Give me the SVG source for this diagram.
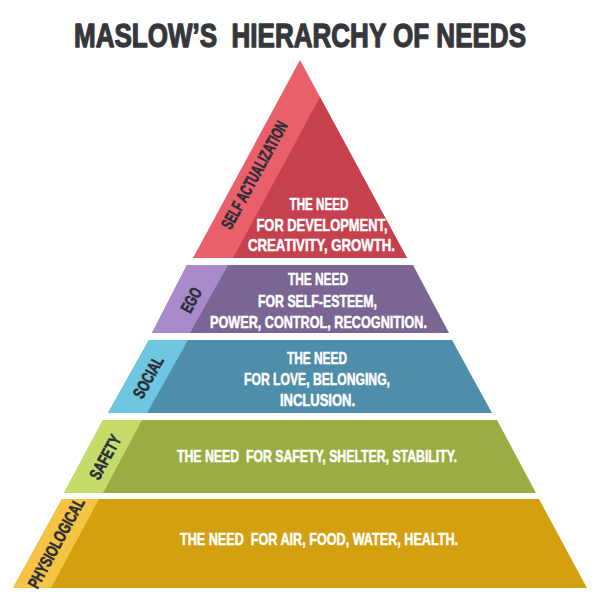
<svg xmlns="http://www.w3.org/2000/svg" width="600" height="600" viewBox="0 0 600 600">
<style>
.title{font-family:"Liberation Sans",Arial,sans-serif;font-weight:bold;font-size:28px;fill:#36373a;stroke:#36373a;stroke-width:1.1px;stroke-linejoin:round;}
.body{font-family:"Liberation Sans",Arial,sans-serif;font-weight:bold;font-size:16.5px;fill:#ffffff;stroke:#ffffff;stroke-width:0.5px;}
.lab{font-family:"Liberation Sans",Arial,sans-serif;font-weight:bold;font-size:17px;fill:#2b2e38;stroke:#2b2e38;stroke-width:0.6px;}
</style>
<rect width="600" height="600" fill="#ffffff"/>
<g transform="translate(300,47) scale(1,1.18)"><text class="title" x="0" y="0" text-anchor="middle" textLength="452" lengthAdjust="spacingAndGlyphs" xml:space="preserve">MASLOW’S  HIERARCHY OF NEEDS</text></g>

<g id="self-actualization">
<polygon points="300,60 407,258 193,258" fill="#e9606b"/>
<polygon points="320,97 407,258 233,258" fill="#c7404e"/>
<g transform="translate(254,175) rotate(-61.4)"><text class="lab" x="0" y="6.1" text-anchor="middle" textLength="120" lengthAdjust="spacingAndGlyphs">SELF ACTUALIZATION</text></g>
<text class="body" x="319" y="210" text-anchor="middle" textLength="59" lengthAdjust="spacingAndGlyphs">THE NEED</text>
<text class="body" x="322" y="231" text-anchor="middle" textLength="131" lengthAdjust="spacingAndGlyphs">FOR DEVELOPMENT,</text>
<text class="body" x="321.5" y="251" text-anchor="middle" textLength="147" lengthAdjust="spacingAndGlyphs">CREATIVITY, GROWTH.</text>
</g>

<g id="ego">
<polygon points="187,265 413,265 449,333 152,333" fill="#7a6594"/>
<polygon points="187,265 228,265 190,333 152,333" fill="#a98bcb"/>
<g transform="translate(191,300) rotate(-61.4)"><text class="lab" x="0" y="6.1" text-anchor="middle" textLength="26" lengthAdjust="spacingAndGlyphs">EGO</text></g>
<text class="body" x="318" y="285" text-anchor="middle" textLength="60" lengthAdjust="spacingAndGlyphs">THE NEED</text>
<text class="body" x="317.5" y="306.5" text-anchor="middle" textLength="119" lengthAdjust="spacingAndGlyphs">FOR SELF-ESTEEM,</text>
<text class="body" x="318.5" y="327.5" text-anchor="middle" textLength="217" lengthAdjust="spacingAndGlyphs">POWER, CONTROL, RECOGNITION.</text>
</g>

<g id="social">
<polygon points="149,340 452,340 492,413 108,413" fill="#4f8eaa"/>
<polygon points="149,340 188,340 147,413 108,413" fill="#6ec6e0"/>
<g transform="translate(148,377) rotate(-61.4)"><text class="lab" x="0" y="6.1" text-anchor="middle" textLength="45" lengthAdjust="spacingAndGlyphs">SOCIAL</text></g>
<text class="body" x="317" y="363.5" text-anchor="middle" textLength="60" lengthAdjust="spacingAndGlyphs">THE NEED</text>
<text class="body" x="317" y="385" text-anchor="middle" textLength="146" lengthAdjust="spacingAndGlyphs">FOR LOVE, BELONGING,</text>
<text class="body" x="317.5" y="405.5" text-anchor="middle" textLength="75" lengthAdjust="spacingAndGlyphs">INCLUSION.</text>
</g>

<g id="safety">
<polygon points="103,420 497,420 536,493 64,493" fill="#9bad42"/>
<polygon points="103,420 142,420 103,493 64,493" fill="#c6dc6a"/>
<g transform="translate(105,457) rotate(-61.4)"><text class="lab" x="0" y="6.1" text-anchor="middle" textLength="48" lengthAdjust="spacingAndGlyphs">SAFETY</text></g>
<text class="body" x="317" y="462" text-anchor="middle" textLength="280" lengthAdjust="spacingAndGlyphs" xml:space="preserve">THE NEED  FOR SAFETY, SHELTER, STABILITY.</text>
</g>

<g id="physiological">
<polygon points="62,499 539,499 587,588 13,588" fill="#d4a00f"/>
<polygon points="62,499 99,499 51,588 13,588" fill="#f6c445"/>
<g transform="translate(56,543) rotate(-61.4)"><text class="lab" x="0" y="6.1" text-anchor="middle" textLength="100" lengthAdjust="spacingAndGlyphs">PHYSIOLOGICAL</text></g>
<text class="body" x="319" y="545" text-anchor="middle" textLength="278" lengthAdjust="spacingAndGlyphs" xml:space="preserve">THE NEED  FOR AIR, FOOD, WATER, HEALTH.</text>
</g>

<g id="connectors"/>
</svg>
